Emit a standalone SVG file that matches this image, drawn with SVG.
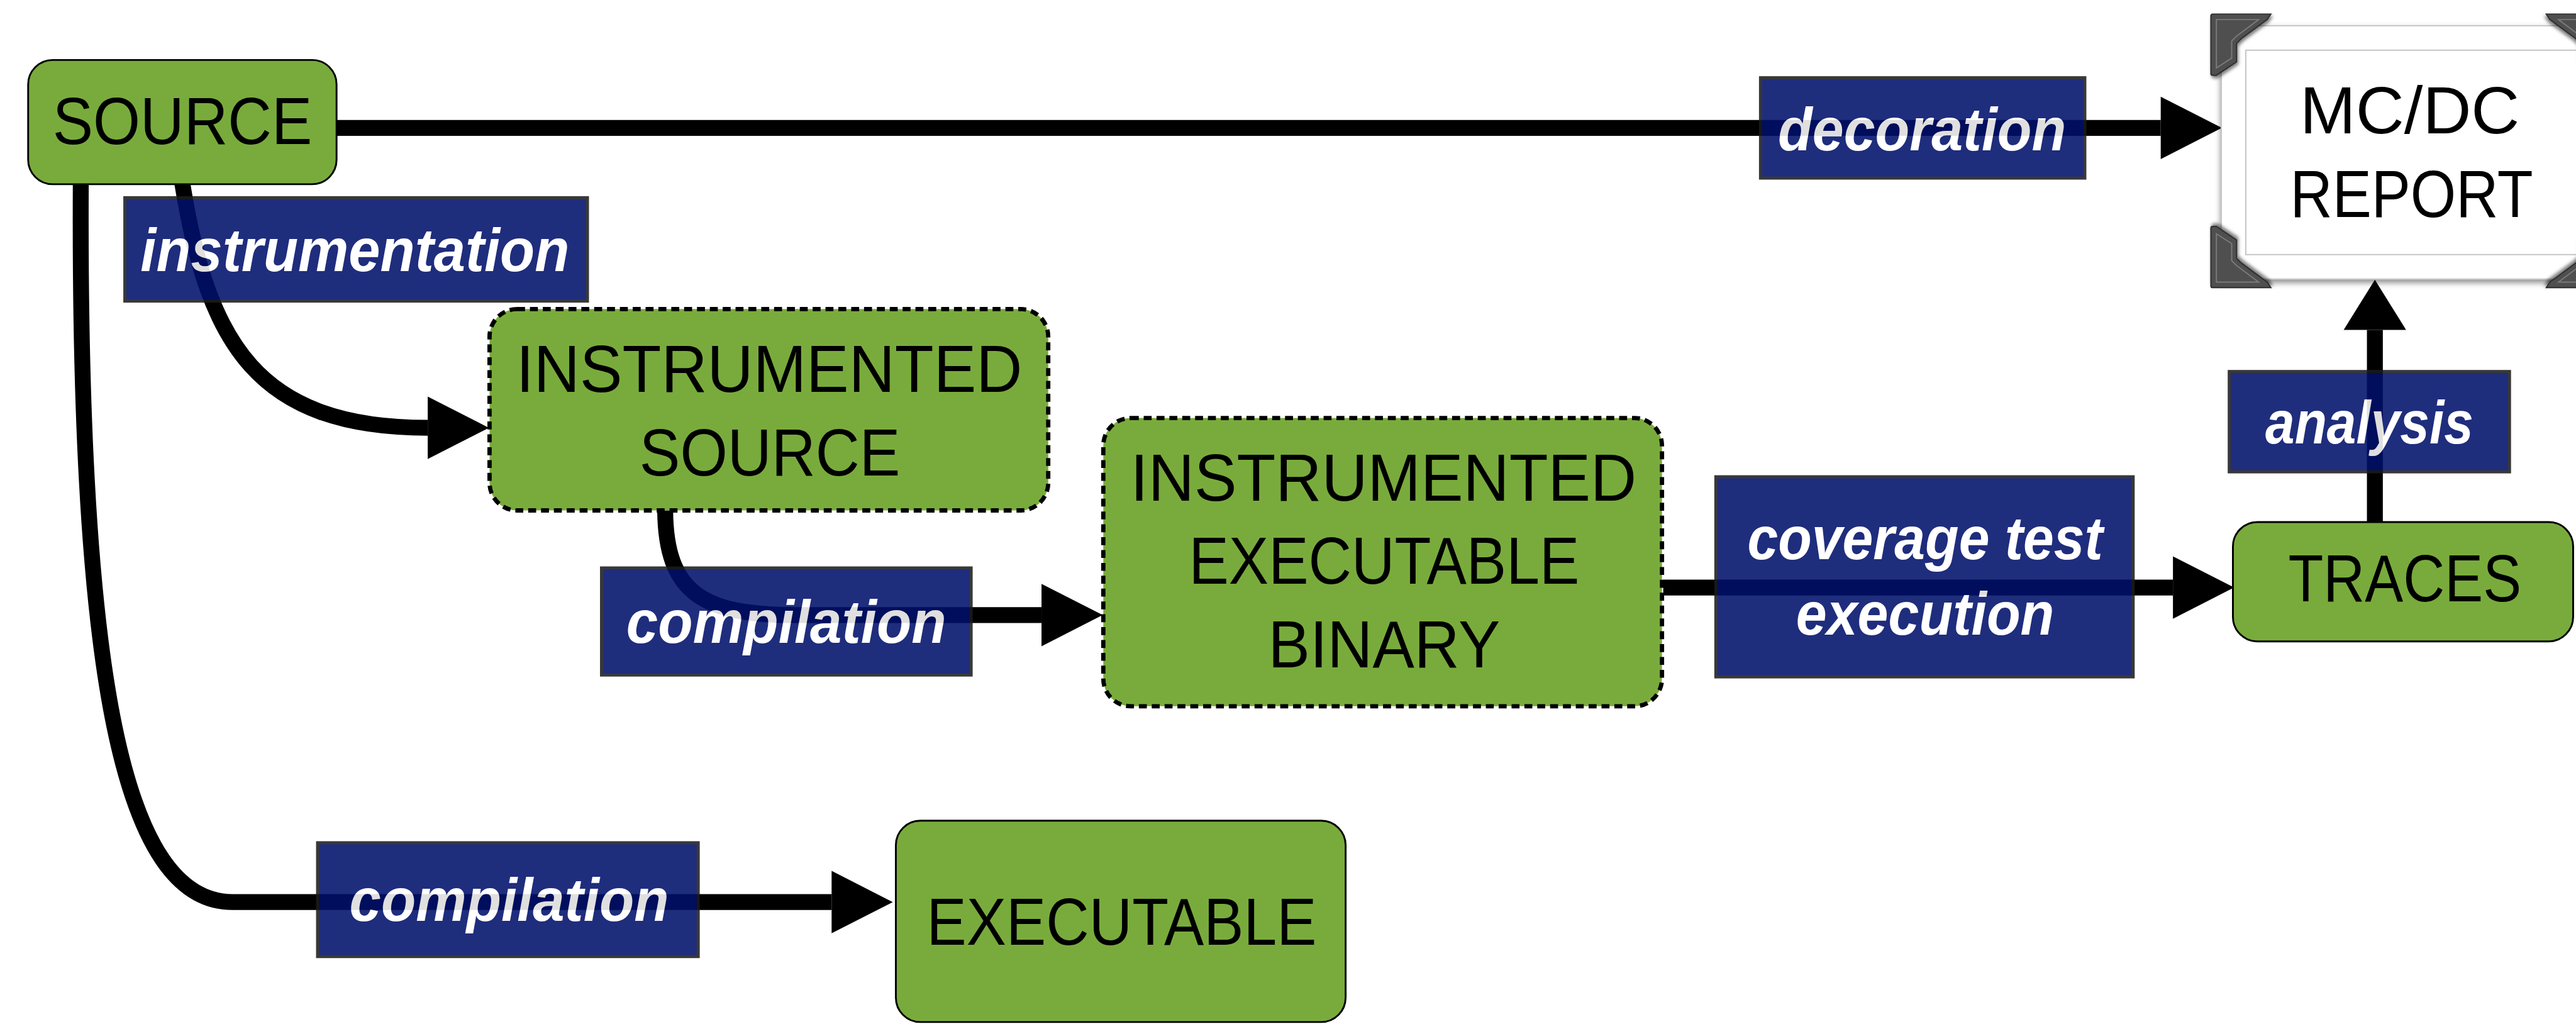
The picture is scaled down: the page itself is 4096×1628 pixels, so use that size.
<svg xmlns="http://www.w3.org/2000/svg" xmlns:xlink="http://www.w3.org/1999/xlink" width="4096" height="1628" viewBox="0 0 4096 1628">
<defs>
<style>
.node{fill:#79ab3c;stroke:#000;stroke-width:3}
.dashed{stroke-dasharray:13 8;stroke-width:7}
.ntext{font-family:"Liberation Sans",Arial,sans-serif;font-size:109px;fill:#000;text-anchor:middle}
.conn{fill:none;stroke:#000;stroke-width:26}
.lbl{opacity:0.875}
.lbl rect{fill:#00106b;stroke:#1c1c1c;stroke-width:5}
.lbl text{font-family:"Liberation Sans",Arial,sans-serif;font-weight:bold;font-style:italic;font-size:100px;fill:#fff;text-anchor:middle}
.frame{fill:#fff;stroke:#c4c4c4;stroke-width:2}
.corner{fill:#4f4f4f;stroke:#2e2e2e;stroke-width:2}
.cornerIn{fill:none;stroke:#7a7a7a;stroke-width:2}
</style>
<marker id="arrow" markerUnits="userSpaceOnUse" markerWidth="100" markerHeight="102" refX="0" refY="51" orient="auto" overflow="visible">
<path d="M0,0 L100,51 L0,102 Z" fill="#000"/>
</marker>
<marker id="arrowShort" markerUnits="userSpaceOnUse" markerWidth="82" markerHeight="102" refX="0" refY="51" orient="auto" overflow="visible">
<path d="M0,0 L82,51 L0,102 Z" fill="#000"/>
</marker>
<filter id="shadow" x="-10%" y="-10%" width="130%" height="130%">
<feDropShadow dx="0" dy="5" stdDeviation="5" flood-color="#000" flood-opacity="0.45"/>
</filter>
<filter id="cshadow" x="-20%" y="-20%" width="150%" height="150%">
<feDropShadow dx="2" dy="4" stdDeviation="3" flood-color="#000" flood-opacity="0.5"/>
</filter>
<g id="bracket">
<path class="corner" d="M0,3 Q0,0 3,0 L98,0 L92,9 L50,40 L42,48 L42,78 L9,100 L3,100 Q0,100 0,97 Z" filter="url(#cshadow)"/>
<path class="cornerIn" d="M9,9 L78,9 L42,36 L34,44 L34,72 L9,88 Z"/>
</g>
</defs>
<rect width="4096" height="1628" fill="#fff"/>
<g transform="scale(0.973)">
<g id="connectors">
<path class="conn" d="M550,209 L3531,209" marker-end="url(#arrow)"/>
<path class="conn" d="M298,300 C340,560 420,699 699,699" marker-end="url(#arrow)"/>
<path class="conn" d="M1087,834 C1088,970 1150,1005 1300,1005 L1702,1005" marker-end="url(#arrow)"/>
<path class="conn" d="M132,300 C128,1100 200,1474 380,1474 L1359,1474" marker-end="url(#arrow)"/>
<path class="conn" d="M2718,960 L3551,960" marker-end="url(#arrow)"/>
<path class="conn" d="M3881,853 L3881,539" marker-end="url(#arrowShort)"/>
</g>
<g id="node-source">
<rect class="node" x="46" y="98" width="504" height="203" rx="40"/>
<text class="ntext" x="298" y="235" textLength="424" lengthAdjust="spacingAndGlyphs">SOURCE</text>
</g>
<g id="node-instrumented-source">
<rect class="node dashed" x="800" y="505" width="913" height="329" rx="45"/>
<text class="ntext" x="1257" y="640" textLength="827" lengthAdjust="spacingAndGlyphs">INSTRUMENTED</text>
<text class="ntext" x="1258" y="777" textLength="426" lengthAdjust="spacingAndGlyphs">SOURCE</text>
</g>
<g id="node-instrumented-binary">
<rect class="node dashed" x="1803" y="683" width="913" height="471" rx="45"/>
<text class="ntext" x="2261" y="818" textLength="827" lengthAdjust="spacingAndGlyphs">INSTRUMENTED</text>
<text class="ntext" x="2262" y="954" textLength="638" lengthAdjust="spacingAndGlyphs">EXECUTABLE</text>
<text class="ntext" x="2262" y="1090" textLength="379" lengthAdjust="spacingAndGlyphs">BINARY</text>
</g>
<g id="node-executable">
<rect class="node" x="1464" y="1341" width="735" height="329" rx="40"/>
<text class="ntext" x="1833" y="1544" textLength="637" lengthAdjust="spacingAndGlyphs">EXECUTABLE</text>
</g>
<g id="node-traces">
<rect class="node" x="3649" y="853" width="556" height="195" rx="40"/>
<text class="ntext" x="3930" y="983" textLength="381" lengthAdjust="spacingAndGlyphs">TRACES</text>
</g>
<g id="node-report">
<rect class="frame" x="3630" y="42" width="640" height="414" filter="url(#shadow)"/>
<rect class="frame" x="3670" y="82" width="600" height="334" fill="none"/>
<use xlink:href="#bracket" href="#bracket" transform="translate(3613,23)"/>
<use xlink:href="#bracket" href="#bracket" transform="translate(3613,470) scale(1,-1)"/>
<use xlink:href="#bracket" href="#bracket" transform="translate(4259,23) scale(-1,1)"/>
<use xlink:href="#bracket" href="#bracket" transform="translate(4259,470) scale(-1,-1)"/>
<text class="ntext" x="3938" y="218" textLength="359" lengthAdjust="spacingAndGlyphs">MC/DC</text>
<text class="ntext" x="3941" y="355" textLength="397" lengthAdjust="spacingAndGlyphs">REPORT</text>
</g>
<g id="labels">
<g class="lbl" id="label-decoration">
<rect x="2877" y="127" width="530" height="164"/>
<text x="3141" y="246" textLength="471" lengthAdjust="spacingAndGlyphs">decoration</text>
</g>
<g class="lbl" id="label-instrumentation">
<rect x="204" y="323" width="756" height="169"/>
<text x="580" y="443" textLength="701" lengthAdjust="spacingAndGlyphs">instrumentation</text>
</g>
<g class="lbl" id="label-compilation-1">
<rect x="983" y="928" width="604" height="175"/>
<text x="1285" y="1050" textLength="523" lengthAdjust="spacingAndGlyphs">compilation</text>
</g>
<g class="lbl" id="label-coverage">
<rect x="2804" y="779" width="682" height="327"/>
<text x="3146" y="914" textLength="581" lengthAdjust="spacingAndGlyphs">coverage test</text>
<text x="3146" y="1037" textLength="422" lengthAdjust="spacingAndGlyphs">execution</text>
</g>
<g class="lbl" id="label-analysis">
<rect x="3643" y="607" width="458" height="164"/>
<text x="3872" y="725" textLength="340" lengthAdjust="spacingAndGlyphs">analysis</text>
</g>
<g class="lbl" id="label-compilation-2">
<rect x="519" y="1377" width="622" height="186"/>
<text x="832" y="1505" textLength="522" lengthAdjust="spacingAndGlyphs">compilation</text>
</g>
</g>
</g>
</svg>
